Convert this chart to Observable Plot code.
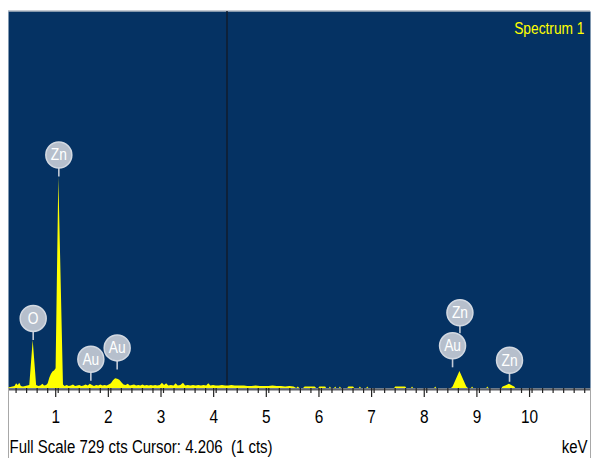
<!DOCTYPE html>
<html>
<head>
<meta charset="utf-8">
<script src="https://cdn.jsdelivr.net/npm/d3@7"></script>
<script src="https://cdn.jsdelivr.net/npm/@observablehq/plot@0.6"></script>
<style>
  body { margin: 0; background: #fff; }
  #chart svg { display: block; }
</style>
</head>
<body>
<div id="chart"></div>
<script>
// EDS spectrum: [energy (keV), counts]
const spectrum = [
  [0.06,1],[0.10,2],[0.14,3],[0.18,4],[0.21,9],[0.24,6],[0.27,10],[0.30,4],[0.34,3],[0.38,4],[0.42,5],
  [0.46,6],[0.525,93],[0.59,6],[0.63,4],[0.67,5],[0.71,8],[0.74,5],[0.78,6],[0.81,9],[0.84,20],[0.87,27],
  [0.90,32],[0.93,34],[0.96,38],[1.012,409],[1.10,7],[1.13,4],[1.17,6],[1.21,4],[1.25,5],[1.29,7],[1.33,4],
  [1.37,5],[1.41,6],[1.45,4],[1.49,5],[1.53,7],[1.57,5],[1.61,8],[1.65,6],[1.69,4],[1.73,6],[1.77,5],
  [1.81,7],[1.85,5],[1.89,6],[1.93,5],[1.97,7],[2.01,9],[2.05,15],[2.09,19],[2.13,18],[2.17,16],[2.21,11],
  [2.25,7],[2.29,6],[2.33,8],[2.37,5],[2.41,6],[2.45,7],[2.49,5],[2.53,6],[2.57,5],[2.61,7],[2.65,5],
  [2.69,6],[2.73,5],[2.77,6],[2.81,5],[2.85,6],[2.89,5],[2.94,6],[2.98,10],[3.02,6],[3.06,9],[3.10,5],
  [3.15,6],[3.20,5],[3.24,9],[3.28,5],[3.33,6],[3.38,10],[3.42,5],[3.47,6],[3.52,5],[3.57,6],[3.62,5],
  [3.67,6],[3.72,5],[3.77,6],[3.82,5],[3.86,9],[3.90,5],[3.95,6],[4.00,5],[4.06,5],[4.12,6],[4.18,5],
  [4.24,5],[4.30,6],[4.36,5],[4.42,5],[4.48,5],[4.54,5],[4.60,4],[4.68,4],[4.76,5],[4.84,4],[4.92,4],
  [5.00,4],[5.08,5],[5.16,4],[5.24,4],[5.32,3],[5.40,4],[5.48,3],[5.53,0],[5.56,3],[5.59,0],[5.66,0],
  [5.69,3],[5.88,3],[5.91,0],[5.95,0],[5.97,3],[6.08,3],[6.10,0],[6.15,0],[6.17,3],[6.19,0],[6.25,0],
  [6.27,3],[6.29,0],[6.34,0],[6.36,3],[6.38,0],[6.50,0],[6.52,3],[6.61,3],[6.63,0],[6.72,0],[6.74,3],
  [6.76,0],[6.86,0],[6.88,3],[6.90,0],[7.39,0],[7.41,3],[7.60,3],[7.62,0],[7.71,0],[7.73,3],[7.75,0],
  [8.15,0],[8.17,3],[8.19,0],[8.47,0],[8.50,3],[8.63,33],[8.76,3],[8.79,0],[8.85,0],[8.87,3],[8.89,0],
  [9.14,0],[9.16,3],[9.18,0],[9.43,0],[9.45,3],[9.50,5],[9.57,8],[9.63,5],[9.67,3],[9.69,0],[11.11,0]
];

// Peak identification markers
const peakLabels   = ["O", "Zn", "Au", "Au", "Au", "Zn", "Zn"];
const peakEnergies = [0.525, 1.012, 1.62, 2.12, 8.49, 8.63, 9.572];
const peakCounts   = [93, 409, 14, 36, 40, 40, 12];
const peakLevels   = [0, 0, 0, 0, 0, 1, 0];

const majorTicks = [1, 2, 3, 4, 5, 6, 7, 8, 9, 10];
const minorTicks = d3.range(0.2, 11.05, 0.2);

const fullScale = 729;
const cursorKeV = 4.206;
const cursorCounts = 1;
const spectrumName = "Spectrum 1";
const unitLabel = "keV";

const markers = peakLabels.map((label, i) => ({
  label, keV: peakEnergies[i], cts: peakCounts[i], level: peakLevels[i]
}));
const base = markers.filter(d => d.level === 0);
const stacked = markers.filter(d => d.level === 1);

const xDomain = [0.056, 11.11];
const bubbleFill = "#b6bfcc";
const bubbleEdge = "#d3d9e2";
const font = "'Liberation Sans', Arial, sans-serif";

const chart = Plot.plot({
  width: 592,
  height: 458,
  marginLeft: 8,
  marginRight: 2,
  marginTop: 11,
  marginBottom: 70,
  x: {domain: xDomain, axis: null, label: null},
  y: {domain: [0, fullScale], axis: null, label: null},
  style: {fontFamily: font, background: "#ffffff", overflow: "visible"},
  marks: [
    Plot.frame({fill: "#053263", stroke: null}),
    Plot.ruleY([fullScale], {stroke: "#8a95a5", strokeWidth: 1, dy: -0.5}),
    Plot.ruleX([cursorKeV], {stroke: "#101d2d", strokeWidth: 1.5}),
    Plot.areaY(spectrum, {x: d => d[0], y: d => d[1], fill: "#ffff00", curve: "linear"}),

    // axis baseline and the border of the scale strip
    Plot.ruleY([0], {stroke: "#5e6166", strokeWidth: 2, dy: 1}),
    Plot.ruleX(xDomain, {y1: 0, y2: 0, insetBottom: -70, stroke: "#a8a8a8", strokeWidth: 1}),
    Plot.axisX({ticks: minorTicks, tickSize: 5, tickFormat: () => "", label: null,
                stroke: "#222", strokeWidth: 1.2}),
    Plot.axisX({ticks: majorTicks, tickSize: 9, tickPadding: 12, tickFormat: d => String(d), label: null,
                stroke: "#222", strokeWidth: 1.2, fill: "#000", fontSize: 19, dx: -2.5}),

    // peak marker stems
    Plot.ruleX(base, {x: "keV", y1: "cts", y2: "cts", insetTop: -10, stroke: "#c4cbd6", strokeWidth: 1.6}),
    Plot.ruleX(stacked, {x: "keV", y1: "cts", y2: "cts", dy: -34, insetTop: -9, stroke: "#c4cbd6", strokeWidth: 1.6}),
    // peak marker bubbles
    Plot.dot(base, {x: "keV", y: "cts", dy: -22, r: 13, fill: bubbleFill, stroke: bubbleEdge, strokeWidth: 1.5}),
    Plot.dot(stacked, {x: "keV", y: "cts", dy: -55, r: 13, fill: bubbleFill, stroke: bubbleEdge, strokeWidth: 1.5}),
    Plot.text(base, {x: "keV", y: "cts", dy: -22, text: "label", fill: "#ffffff", fontSize: 17}),
    Plot.text(stacked, {x: "keV", y: "cts", dy: -55, text: "label", fill: "#ffffff", fontSize: 17}),

    // spectrum name, status line and unit
    Plot.text([spectrumName], {frameAnchor: "top-right", textAnchor: "end", lineAnchor: "bottom",
                               dx: -6, dy: 22, fill: "#ffff00", fontSize: 17}),
    Plot.text([`Full Scale ${fullScale} cts Cursor: ${cursorKeV.toFixed(3)}  (${cursorCounts} cts)`],
              {frameAnchor: "bottom-left", textAnchor: "start", lineAnchor: "bottom",
               dx: 1, dy: 64, fill: "#000", fontSize: 18.5}),
    Plot.text([unitLabel], {frameAnchor: "bottom-right", textAnchor: "end", lineAnchor: "bottom",
                            dx: -3, dy: 64, fill: "#000", fontSize: 18.5})
  ]
});

d3.select(chart).style("white-space", "pre");
document.getElementById("chart").appendChild(chart);

// Narrow lettering: compress every label horizontally about its own anchor point
d3.select(chart).selectAll("text").each(function () {
  const t = this.getAttribute("transform") || "";
  this.setAttribute("transform", `${t} scale(0.81,1)`.trim());
});
</script>
</body>
</html>
